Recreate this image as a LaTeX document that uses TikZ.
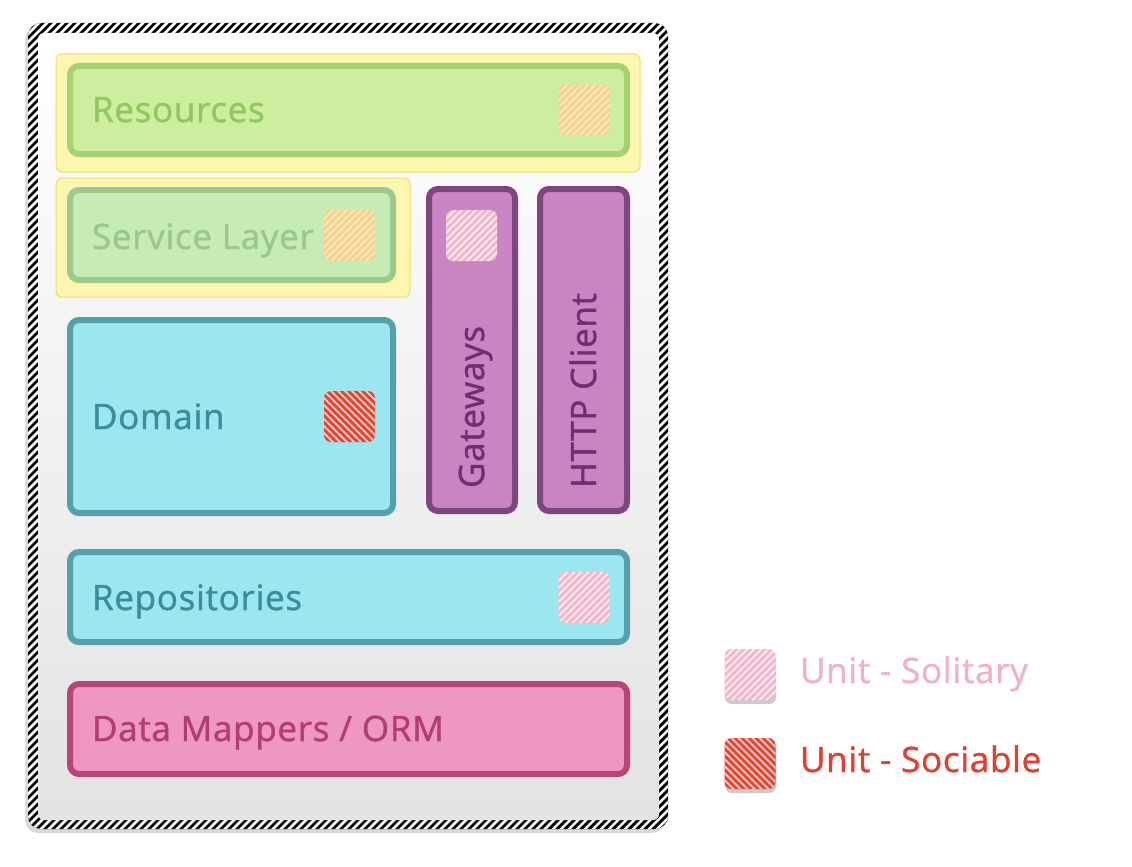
\documentclass[tikz,border=0pt]{standalone}
\usepackage{fontspec}
\setmainfont{Open Sans}
\newfontfamily\semib{Open Sans}[FakeBold=1.2, LetterSpace=2]
\begin{document}
\definecolor{hlfill}{HTML}{FCF6B1}
\definecolor{hldraw}{HTML}{EEDF6B}
\definecolor{resfill}{HTML}{CDEE9F}
\definecolor{resdraw}{HTML}{A6D172}
\definecolor{restext}{HTML}{93C565}
\definecolor{svcfill}{HTML}{C6EBB3}
\definecolor{svcdraw}{HTML}{9FC98C}
\definecolor{svctext}{HTML}{98C98A}
\definecolor{gwfill}{HTML}{C985C3}
\definecolor{gwdraw}{HTML}{7E4581}
\definecolor{gwtext}{HTML}{6E2F70}
\definecolor{domfill}{HTML}{9CE6EF}
\definecolor{domdraw}{HTML}{54A0AB}
\definecolor{domtext}{HTML}{3B8D99}
\definecolor{dmfill}{HTML}{EE97C0}
\definecolor{dmdraw}{HTML}{B84577}
\definecolor{dmtext}{HTML}{B13D71}
\definecolor{orangesq}{HTML}{F5CF9A}
\definecolor{orangest}{HTML}{FAE8A8}
\definecolor{pinksq}{HTML}{F2B6CB}
\definecolor{pinkst}{HTML}{FCE8EE}
\definecolor{redsq}{HTML}{E2452F}
\definecolor{redst}{HTML}{F4C2C2}
\definecolor{soltext}{HTML}{F1B2C8}
\definecolor{soctext}{HTML}{E1402E}
\begin{tikzpicture}[x=1pt,y=-1pt,
  every node/.style={inner sep=0pt, outer sep=0pt},
  label/.style={font=\semib\fontsize{35}{40}\selectfont, anchor=base west},
  highlight/.style={draw=hldraw, fill=hlfill, line width=1pt, rounded corners=6pt},
  layer/.style={line width=6pt, rounded corners=9pt},
  % diagonal stripes rising to the right
  upstripes/.style={path picture={
    \foreach \k in {-63,-56,...,63}
      \draw[#1, line width=2pt]
        ([shift={(\k pt,0pt)}]path picture bounding box.center)
        ++(-40pt,-40pt) -- ++(80pt,80pt);}},
  % diagonal stripes falling to the right
  downstripes/.style={path picture={
    \foreach \k in {-63,-56,...,63}
      \draw[#1, line width=2pt]
        ([shift={(\k pt,0pt)}]path picture bounding box.center)
        ++(-40pt,40pt) -- ++(80pt,-80pt);}},
  marker/.style={minimum width=51pt, minimum height=51pt, rounded corners=7pt},
  solitary/.style={marker, fill=pinksq, upstripes=pinkst},
  sociable/.style={marker, fill=redsq, downstripes=redst},
  planned/.style={marker, fill=orangesq, upstripes=orangest},
  shadow/.style={fill=black!45, opacity=0.45}
]
\useasboundingbox (0,0) rectangle (1132,867);

% hatched outer frame with a soft grey panel inside
\fill[black!30, opacity=0.5, rounded corners=13pt] (25,27) rectangle (665,833);
\node[minimum width=640pt, minimum height=806pt, rounded corners=13pt, fill=black,
  path picture={
    \foreach \k in {-736,-728,...,736}
      \draw[white, line width=2.5pt]
        ([shift={(\k pt,0pt)}]path picture bounding box.center)
        ++(-420pt,-420pt) -- ++(840pt,840pt);}]
  (frame) at (348,426) {};
\node[minimum width=621pt, minimum height=787pt, rounded corners=6pt,
  top color=white, bottom color=black!11]
  (panel) at (348.5,426.5) {};

% resource and service highlights
\node[highlight, minimum width=584pt, minimum height=118pt] (reshl) at (348,113) {};
\node[highlight, minimum width=354pt, minimum height=119pt] (svchl) at (233,237.5) {};

% layers
\node[layer, draw=resdraw, fill=resfill, minimum width=557pt, minimum height=88pt] (res) at (348.5,110) {};
\node[layer, draw=svcdraw, fill=svcfill, minimum width=323pt, minimum height=90pt] (svc) at (231.5,235) {};
\node[layer, draw=gwdraw, fill=gwfill, minimum width=86pt, minimum height=322pt] (gw) at (472,350) {};
\node[layer, draw=gwdraw, fill=gwfill, minimum width=87pt, minimum height=322pt] (http) at (583.5,350) {};
\node[layer, draw=domdraw, fill=domfill, minimum width=323pt, minimum height=193pt] (dom) at (231.5,416.5) {};
\node[layer, draw=domdraw, fill=domfill, minimum width=557pt, minimum height=90pt] (repo) at (348.5,597) {};
\node[layer, draw=dmdraw, fill=dmfill, minimum width=557pt, minimum height=90pt] (dm) at (348.5,729) {};

% layer names
\node[label, text=restext] (restxt) at (92,122) {Resources};
\node[label, text=svctext] (svctxt) at (92,249) {Service Layer};
\node[label, text=domtext] (domtxt) at (92,429) {Domain};
\node[label, text=domtext] (repotxt) at (92,610) {Repositories};
\node[label, text=dmtext] (dmtxt) at (92,741) {Data Mappers / ORM};
\node[label, text=gwtext, rotate=90] (gwtxt) at (484,488) {Gateways};
\node[label, text=gwtext, rotate=90] (httptxt) at (596,488) {HTTP Client};

% test markers
\node[planned] (resmk) at (584,110) {};
\node[planned] (svcmk) at (349.5,235.5) {};
\node[solitary] (gwmk) at (471.5,235.5) {};
\node[sociable] (dommk) at (349.5,416.5) {};
\node[solitary] (repomk) at (584,597.5) {};

% legend
\fill[shadow, rounded corners=7pt] (725,652) rectangle (776,704);
\node[solitary] (legsol) at (750,674.5) {};
\node[label, text=soltext] (legsoltxt) at (800,683) {Unit - Solitary};
\fill[shadow, rounded corners=7pt] (725,741) rectangle (776,793);
\node[sociable] (legsoc) at (750,763.5) {};
\node[label, text=soctext] (legsoctxt) at (800,772) {Unit - Sociable};
\end{tikzpicture}
\end{document}
